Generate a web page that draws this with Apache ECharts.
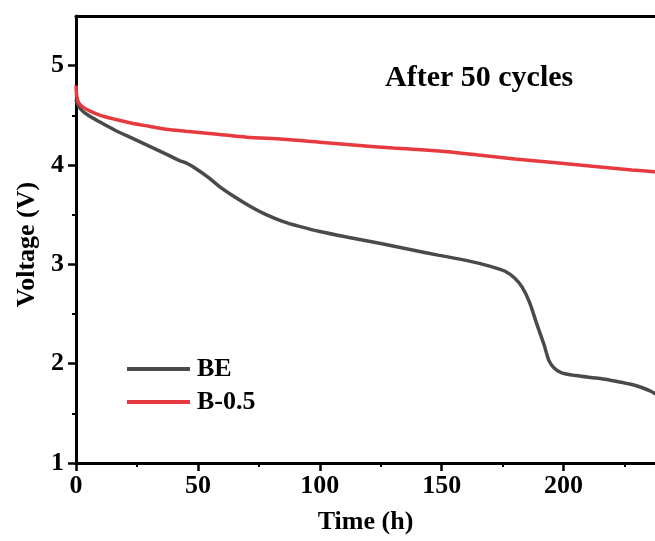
<!DOCTYPE html>
<html>
<head>
<meta charset="utf-8">
<script src="https://cdn.jsdelivr.net/npm/echarts@6/dist/echarts.min.js"></script>
<style>
html,body{margin:0;padding:0;background:#fff;}
#chart{width:655px;height:541px;}
</style>
</head>
<body>
<div id="chart"></div>
<script>
// ---- data ----
var beTime = [0, 0.5, 2, 5, 10, 16, 23, 30, 37, 42, 46, 50, 54, 59, 65, 71, 78, 85, 92, 100, 112, 125, 137, 149, 160, 170, 176, 180, 183, 186, 189, 192, 194, 196, 199, 205, 215, 222, 228, 232, 236, 238];
var beVoltage = [4.66, 4.62, 4.56, 4.50, 4.43, 4.35, 4.27, 4.19, 4.11, 4.05, 4.01, 3.95, 3.88, 3.78, 3.68, 3.59, 3.50, 3.43, 3.38, 3.33, 3.27, 3.21, 3.15, 3.09, 3.04, 2.98, 2.93, 2.86, 2.77, 2.62, 2.40, 2.19, 2.03, 1.96, 1.91, 1.88, 1.85, 1.82, 1.79, 1.76, 1.72, 1.69];
var b05Time = [0, 0.3, 1, 3, 6, 10, 16, 23, 30, 37, 45, 58, 70, 85, 100, 115, 130, 149, 165, 180, 198, 215, 228, 238];
var b05Voltage = [4.80, 4.70, 4.63, 4.58, 4.54, 4.50, 4.46, 4.42, 4.39, 4.36, 4.34, 4.31, 4.28, 4.26, 4.23, 4.20, 4.17, 4.14, 4.10, 4.06, 4.02, 3.98, 3.95, 3.93];
var xTicks = [0, 50, 100, 150, 200];
var yTicks = [1, 2, 3, 4, 5];
var seriesNames = ['BE', 'B-0.5'];
var annotation = 'After 50 cycles';

function pairs(xs, ys) { return xs.map(function (x, i) { return [x, ys[i]]; }); }

var font = 'Liberation Serif';
var axisCol = '#000';
var colBE = '#4a4a4a';
var colB05 = '#e63a3f';

var chart = echarts.init(document.getElementById('chart'), null, {renderer: 'canvas'});
chart.setOption({
  backgroundColor: '#fff',
  animation: false,
  grid: {left: 76, right: 0, top: 16, bottom: 78, containLabel: false},
  legend: {
    orient: 'vertical',
    left: 122, top: 351,
    icon: 'rect',
    itemWidth: 63, itemHeight: 4, itemGap: 7,
    data: seriesNames,
    textStyle: {fontFamily: font, fontWeight: 'bold', fontSize: 26, color: '#000', lineHeight: 26, padding: [0, 0, 0, 2]}
  },
  xAxis: [{
    type: 'value', min: 0, max: 237.5, interval: 50,
    name: 'Time (h)', nameLocation: 'middle', nameGap: 46,
    nameTextStyle: {fontFamily: font, fontWeight: 'bold', fontSize: 26, color: '#000'},
    axisLine: {show: true, onZero: false, lineStyle: {color: axisCol, width: 3}},
    axisTick: {show: true, inside: false, length: 8, lineStyle: {color: axisCol, width: 2.5}, customValues: xTicks},
    minorTick: {show: true, splitNumber: 2, length: 4, lineStyle: {color: axisCol, width: 2}},
    axisLabel: {fontFamily: font, fontWeight: 'bold', fontSize: 26, color: '#000', margin: 10, customValues: xTicks},
    splitLine: {show: false}
  }, {
    type: 'value', position: 'top', min: 0, max: 237.5,
    axisLine: {show: true, onZero: false, lineStyle: {color: axisCol, width: 3}},
    axisTick: {show: false}, axisLabel: {show: false}, splitLine: {show: false}
  }],
  yAxis: {
    type: 'value', min: 1, max: 5.5, interval: 1,
    name: 'Voltage (V)', nameLocation: 'middle', nameGap: 36,
    nameTextStyle: {fontFamily: font, fontWeight: 'bold', fontSize: 26, color: '#000', padding: [0, 10, 0, 0]},
    axisLine: {show: true, onZero: false, lineStyle: {color: axisCol, width: 3}},
    axisTick: {show: true, inside: false, length: 8, lineStyle: {color: axisCol, width: 2.5}, customValues: yTicks},
    minorTick: {show: true, splitNumber: 2, length: 4, lineStyle: {color: axisCol, width: 2}},
    axisLabel: {fontFamily: font, fontWeight: 'bold', fontSize: 26, color: '#000', margin: 12, customValues: yTicks},
    splitLine: {show: false}
  },
  series: [{
    name: seriesNames[0], type: 'line', xAxisIndex: 0, data: pairs(beTime, beVoltage),
    smooth: 0.3, symbol: 'none', clip: true,
    lineStyle: {color: colBE, width: 3.5}, itemStyle: {color: colBE}
  }, {
    name: seriesNames[1], type: 'line', xAxisIndex: 0, data: pairs(b05Time, b05Voltage),
    smooth: 0.3, symbol: 'none', clip: true,
    lineStyle: {color: colB05, width: 3.5}, itemStyle: {color: colB05}
  }],
  graphic: [{
    type: 'text', left: 385, top: 63,
    style: {text: annotation, fontFamily: font, fontWeight: 'bold', fontSize: 30, fill: '#000'}
  }]
});
</script>
</body>
</html>
